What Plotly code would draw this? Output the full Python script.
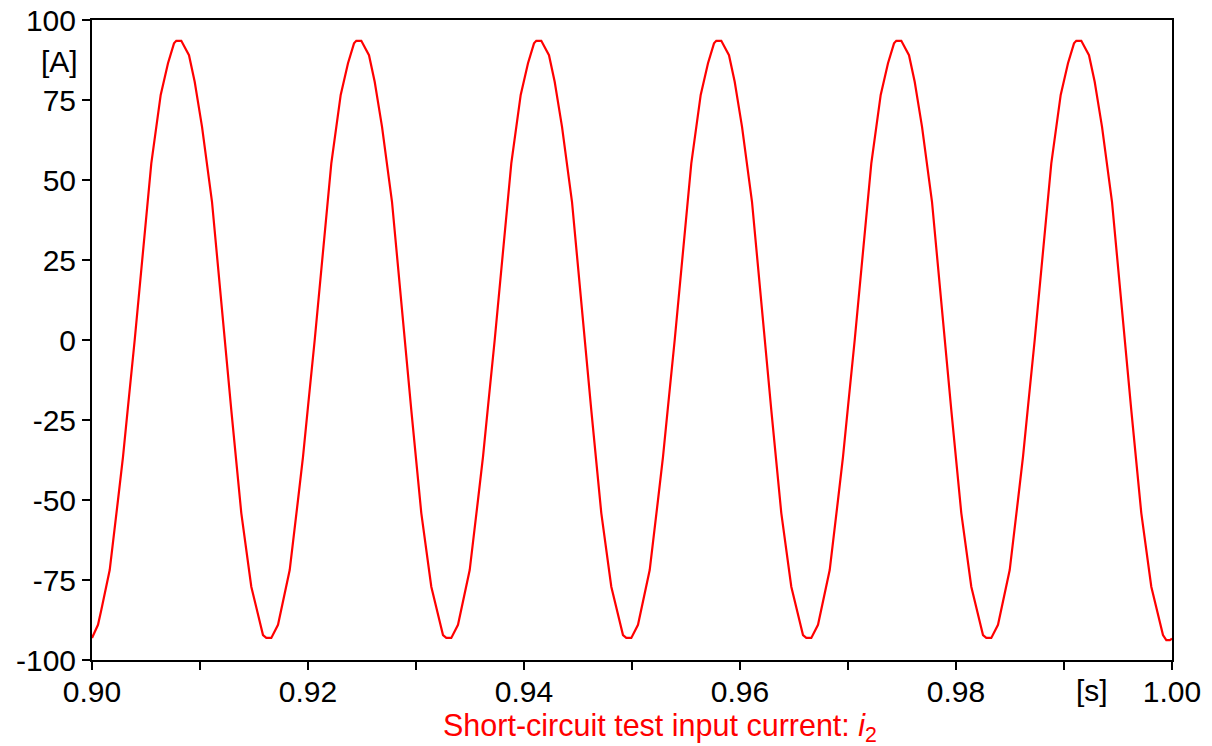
import plotly.graph_objects as go

# time in ms after 0.9 s
t_ms = [
    0.000, 0.556, 0.861, 1.639, 2.407, 2.870, 3.333, 3.954, 5.491, 6.361, 7.037, 7.593, 7.806,
    8.268, 8.981, 9.509, 10.185, 11.111, 12.898, 13.824, 14.750, 15.833, 16.139,
    16.602, 17.223, 17.528, 18.306, 19.074, 19.537, 20.000, 20.621, 22.158, 23.028, 23.704, 24.260, 24.473,
    24.935, 25.648, 26.176, 26.852, 27.778, 29.565, 30.491, 31.417, 32.500, 32.806,
    33.268, 33.889, 34.194, 34.972, 35.740, 36.203, 36.666, 37.287, 38.824, 39.694, 40.370, 40.926, 41.139,
    41.601, 42.314, 42.842, 43.518, 44.444, 46.231, 47.157, 48.083, 49.166, 49.472,
    49.935, 50.556, 50.861, 51.639, 52.407, 52.870, 53.333, 53.954, 55.491, 56.361, 57.037, 57.593, 57.806,
    58.268, 58.981, 59.509, 60.185, 61.111, 62.898, 63.824, 64.750, 65.833, 66.139,
    66.602, 67.223, 67.528, 68.306, 69.074, 69.537, 70.000, 70.621, 72.158, 73.028, 73.704, 74.260, 74.473,
    74.935, 75.648, 76.176, 76.852, 77.778, 79.565, 80.491, 81.417, 82.500, 82.806,
    83.268, 83.889, 84.194, 84.972, 85.740, 86.203, 86.666, 87.287, 88.824, 89.694, 90.370, 90.926, 91.139,
    91.601, 92.314, 92.842, 93.518, 94.444, 96.231, 97.157, 98.083, 99.166, 99.472, 99.800, 100.000,
]

current = [
    -93.1, -89.0, -84.4, -71.9, -50.0, -36.5, -20.8, 0.0, 55.2, 76.6, 86.5, 92.7, 93.5,
    93.5, 89.0, 80.7, 66.7, 43.2, -21.9, -54.1, -77.1, -92.2, -93.1,
    -93.1, -89.0, -84.4, -71.9, -50.0, -36.5, -20.8, 0.0, 55.2, 76.6, 86.5, 92.7, 93.5,
    93.5, 89.0, 80.7, 66.7, 43.2, -21.9, -54.1, -77.1, -92.2, -93.1,
    -93.1, -89.0, -84.4, -71.9, -50.0, -36.5, -20.8, 0.0, 55.2, 76.6, 86.5, 92.7, 93.5,
    93.5, 89.0, 80.7, 66.7, 43.2, -21.9, -54.1, -77.1, -92.2, -93.1,
    -93.1, -89.0, -84.4, -71.9, -50.0, -36.5, -20.8, 0.0, 55.2, 76.6, 86.5, 92.7, 93.5,
    93.5, 89.0, 80.7, 66.7, 43.2, -21.9, -54.1, -77.1, -92.2, -93.1,
    -93.1, -89.0, -84.4, -71.9, -50.0, -36.5, -20.8, 0.0, 55.2, 76.6, 86.5, 92.7, 93.5,
    93.5, 89.0, 80.7, 66.7, 43.2, -21.9, -54.1, -77.1, -92.2, -93.1,
    -93.1, -89.0, -84.4, -71.9, -50.0, -36.5, -20.8, 0.0, 55.2, 76.6, 86.5, 92.7, 93.5,
    93.5, 89.0, 80.7, 66.7, 43.2, -21.9, -54.1, -77.1, -92.2, -93.8, -93.8, -93.3,
]

time_s = [0.9 + v / 1000.0 for v in t_ms]

x_tickvals = [0.90, 0.91, 0.92, 0.93, 0.94, 0.95, 0.96, 0.97, 0.98, 0.99, 1.00]
x_ticktext = ["0.90", "", "0.92", "", "0.94", "", "0.96", "", "0.98", "", "1.00"]
y_tickvals = [-100, -75, -50, -25, 0, 25, 50, 75, 100]
y_ticktext = ["-100", "-75", "-50", "-25", "0", "25", "50", "75", "100"]

FONT = "Liberation Sans, Arial, sans-serif"

fig = go.Figure()
fig.add_trace(go.Scatter(x=time_s, y=current, mode="lines",
                         line=dict(color="#ff0000", width=2.2), showlegend=False,
                         hoverinfo="skip"))

fig.update_layout(
    width=1212, height=746,
    margin=dict(l=92, r=40, t=20, b=86),
    paper_bgcolor="white", plot_bgcolor="white",
    font=dict(family=FONT, size=30, color="black"),
    xaxis=dict(range=[0.9, 1.0], tickvals=x_tickvals, ticktext=x_ticktext,
               showgrid=False, zeroline=False, showline=True, linecolor="black",
               linewidth=2, mirror=True, ticks="outside", ticklen=8, tickwidth=2,
               tickcolor="black", tickfont=dict(size=30), automargin=False,
               ticklabelstandoff=-4),
    yaxis=dict(range=[-100, 100], tickvals=y_tickvals, ticktext=y_ticktext,
               showgrid=False, zeroline=False, showline=True, linecolor="black",
               linewidth=2, mirror=True, ticks="outside", ticklen=8, tickwidth=2,
               tickcolor="black", tickfont=dict(size=30), automargin=False),
    annotations=[
        dict(text="[A]", xref="paper", yref="y", x=-0.011, y=87, xanchor="right",
             yanchor="middle", showarrow=False, font=dict(size=30, color="black")),
        dict(text="[s]", xref="x", yref="paper", x=0.99259, y=-0.047, xanchor="center",
             yanchor="middle", showarrow=False, font=dict(size=30, color="black")),
        dict(text="Short-circuit test input current: <i>i</i><sub>2</sub>",
             xref="paper", yref="paper", x=0.526, y=-0.106, xanchor="center",
             yanchor="middle", showarrow=False, font=dict(size=30.5, color="#ff0000")),
    ],
)

fig.write_html("out.html")
